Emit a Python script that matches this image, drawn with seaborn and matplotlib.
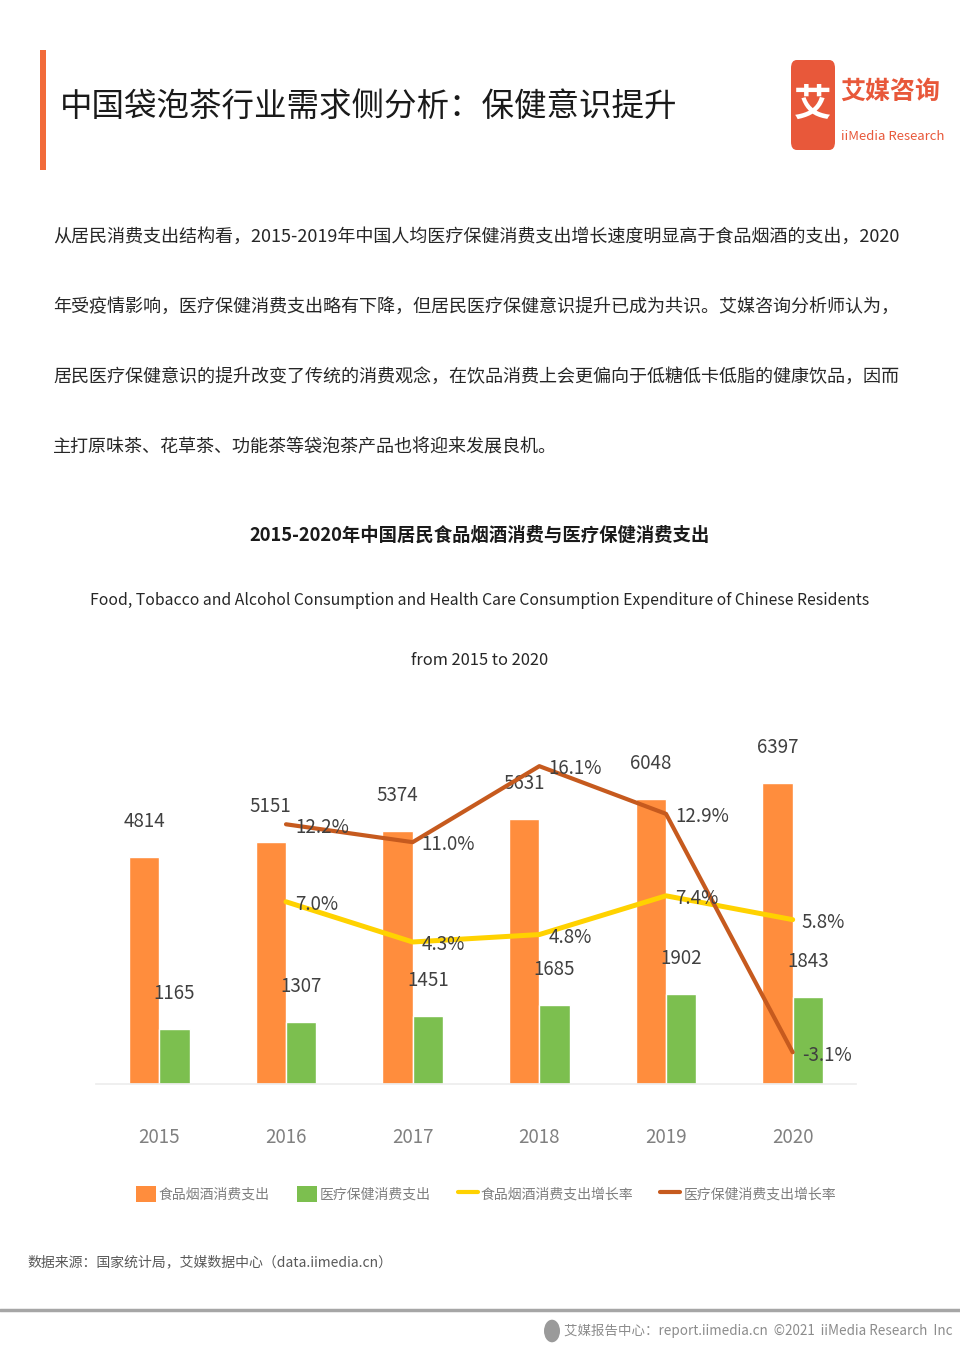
import matplotlib

matplotlib.use("Agg")
import matplotlib.pyplot as plt
import pandas as pd
import seaborn as sns
from matplotlib.lines import Line2D
from matplotlib.patches import Circle, FancyBboxPatch, Patch, Rectangle

YEARS = ["2015", "2016", "2017", "2018", "2019", "2020"]
FOOD_SPEND = [4814, 5151, 5374, 5631, 6048, 6397]
HEALTH_SPEND = [1165, 1307, 1451, 1685, 1902, 1843]
FOOD_GROWTH = [None, 7.0, 4.3, 4.8, 7.4, 5.8]
HEALTH_GROWTH = [None, 12.2, 11.0, 16.1, 12.9, -3.1]
SERIES = ["食品烟酒消费支出", "医疗保健消费支出", "食品烟酒消费支出增长率", "医疗保健消费支出增长率"]

TITLE = "中国袋泡茶行业需求侧分析：保健意识提升"
PARAGRAPH = [
    "从居民消费支出结构看，2015-2019年中国人均医疗保健消费支出增长速度明显高于食品烟酒的支出，2020",
    "年受疫情影响，医疗保健消费支出略有下降，但居民医疗保健意识提升已成为共识。艾媒咨询分析师认为，",
    "居民医疗保健意识的提升改变了传统的消费观念，在饮品消费上会更偏向于低糖低卡低脂的健康饮品，因而",
    "主打原味茶、花草茶、功能茶等袋泡茶产品也将迎来发展良机。",
]
CHART_TITLE = "2015-2020年中国居民食品烟酒消费与医疗保健消费支出"
CHART_SUBTITLE = [
    "Food, Tobacco and Alcohol Consumption and Health Care Consumption Expenditure of Chinese Residents",
    "from 2015 to 2020",
]
SOURCE = "数据来源：国家统计局，艾媒数据中心（data.iimedia.cn）"
FOOTER = "艾媒报告中心：report.iimedia.cn  ©2021  iiMedia Research  Inc"

ORANGE = "#FF8D3D"
GREEN = "#7CBF4F"
YELLOW = "#FFD200"
BROWN = "#C65A1E"
BRAND = "#E8583A"

CJK = ["Noto Sans CJK SC", "DejaVu Sans"]

W, H = 960, 1357


def fy(y_px):
    return 1 - y_px / H


def fx(x_px):
    return x_px / W


sns.set_theme(style="white")
plt.rcParams["font.family"] = CJK

fig = plt.figure(figsize=(W / 100, H / 100), dpi=100)

# header
fig.patches.append(Rectangle((fx(40), fy(170)), fx(6), 120 / H, transform=fig.transFigure,
                             color="#F26B3A", lw=0))
fig.text(fx(60), fy(107), TITLE, fontsize=23.4, color="#1A1A1A", va="center", ha="left")

fig.patches.append(FancyBboxPatch((fx(791), fy(150)), fx(44), 90 / H, transform=fig.transFigure,
                                  boxstyle="round,pad=0,rounding_size=0.006", color=BRAND, lw=0))
fig.text(fx(813), fy(104), "艾", fontsize=27, color="white", ha="center", va="center",
         fontweight="bold")
fig.text(fx(840), fy(92), "艾媒咨询", fontsize=18, color=BRAND, ha="left", va="center",
         fontweight="bold")
fig.text(fx(841), fy(137), "iiMedia Research", fontsize=9.5, color=BRAND, ha="left",
         va="center")

for i, line in enumerate(PARAGRAPH):
    fig.text(fx(53), fy(237 + 70 * i), line, fontsize=13.0, color="#262626", ha="left",
             va="center")

fig.text(0.5, fy(535), CHART_TITLE, fontsize=13.2, color="#1A1A1A", ha="center", va="center",
         fontweight="bold")
fig.text(0.5, fy(600), CHART_SUBTITLE[0], fontsize=11.35, color="#262626", ha="center",
         va="center")
fig.text(0.5, fy(660), CHART_SUBTITLE[1], fontsize=11.8, color="#262626", ha="center",
         va="center")

# chart
bars = pd.DataFrame({
    "year": YEARS * 2,
    "value": FOOD_SPEND + HEALTH_SPEND,
    "series": [SERIES[0]] * len(YEARS) + [SERIES[1]] * len(YEARS),
})
ax = fig.add_axes([fx(96), fy(1084), fx(760), 353 / H])
sns.barplot(data=bars, x="year", y="value", hue="series", palette=[ORANGE, GREEN],
            width=0.48, saturation=1, errorbar=None, legend=False, ax=ax)
ax.set_xlim(-0.5, len(YEARS) - 0.5)
ax.set_ylim(0, 7500)
for container in ax.containers:
    ax.bar_label(container, fmt="{:.0f}", padding=18, fontsize=13.5, color="#404040")
ax.set_xlabel("")
ax.set_ylabel("")
ax.set_yticks([])
ax.tick_params(axis="x", length=0, pad=31, labelsize=13.5, labelcolor="#808080")
for side in ["top", "left", "right"]:
    ax.spines[side].set_visible(False)
ax.spines["bottom"].set_color("#EDEDED")

growth = pd.DataFrame({
    "pos": list(range(len(YEARS))),
    "food": FOOD_GROWTH,
    "health": HEALTH_GROWTH,
}).dropna()
ax2 = ax.twinx()
sns.lineplot(data=growth, x="pos", y="food", color=YELLOW, linewidth=3.6, ax=ax2)
sns.lineplot(data=growth, x="pos", y="health", color=BROWN, linewidth=3.0, ax=ax2)
ax2.set_ylim(-5.23, 18.46)
ax2.set_xlim(-0.5, len(YEARS) - 0.5)
ax2.set_yticks([])
ax2.set_ylabel("")
for side in ["top", "left", "right", "bottom"]:
    ax2.spines[side].set_visible(False)
for col in ["food", "health"]:
    for pos, val in zip(growth["pos"], growth[col]):
        ax2.annotate(f"{val:.1f}%", (pos, val), xytext=(6.5, -2), textcoords="offset points",
                     ha="left", va="center", fontsize=13.5, color="#404040")

handles = [
    Patch(color=ORANGE, lw=0),
    Patch(color=GREEN, lw=0),
    Line2D([], [], color=YELLOW, lw=3),
    Line2D([], [], color=BROWN, lw=3),
]
fig.legend(handles, SERIES, loc="center", bbox_to_anchor=(0.506, fy(1194)), ncol=4,
           frameon=False, handlelength=1.45, handleheight=1.45, handletextpad=0.2,
           columnspacing=1.95, fontsize=10, labelcolor="#7F7F7F")

# source and footer
fig.text(fx(27), fy(1262), SOURCE, fontsize=10, color="#595959", ha="left", va="center")
fig.add_artist(Line2D([0, 1], [fy(1310), fy(1310)], transform=fig.transFigure,
                      color="#A6A6A6", lw=2.5))
fig.patches.append(Circle((fx(552), fy(1331)), 8 / W, transform=fig.transFigure,
                          color="#9A9A9A", lw=0))
fig.text(fx(952), fy(1331), FOOTER, fontsize=9.7, color="#8C8C8C", ha="right", va="center")

fig.savefig("out.png", dpi=100)
plt.close(fig)
